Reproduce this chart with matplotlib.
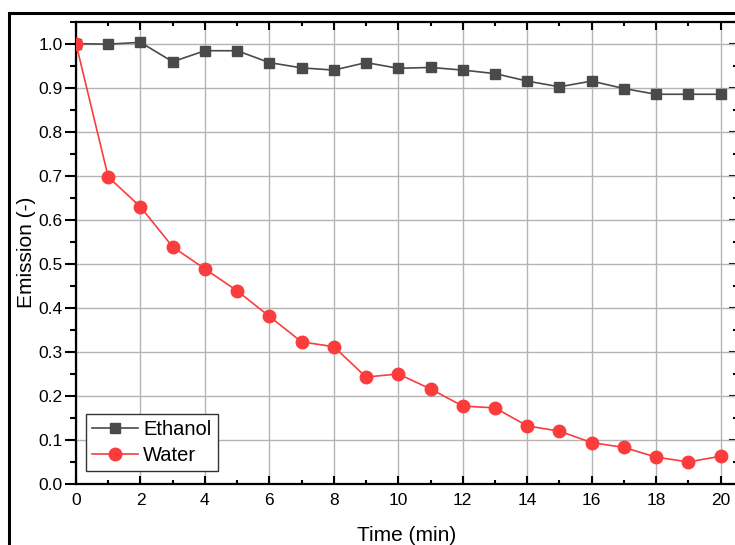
import matplotlib
matplotlib.use("Agg")
import matplotlib.pyplot as plt
from matplotlib.patches import Rectangle
from matplotlib.ticker import MultipleLocator

plt.rcParams['font.family'] = ['Liberation Sans', 'DejaVu Sans']

time_min = [0, 1, 2, 3, 4, 5, 6, 7, 8, 9, 10,
            11, 12, 13, 14, 15, 16, 17, 18, 19, 20]
ethanol = [1.000, 0.999, 1.003, 0.959, 0.984, 0.984, 0.957, 0.945, 0.940,
           0.957, 0.944, 0.946, 0.940, 0.932, 0.915, 0.902, 0.915, 0.898,
           0.885, 0.885, 0.885]
water = [1.000, 0.697, 0.629, 0.538, 0.488, 0.438, 0.380, 0.322, 0.311,
         0.242, 0.249, 0.215, 0.176, 0.172, 0.131, 0.119, 0.093, 0.082,
         0.060, 0.049, 0.062]

fig = plt.figure(figsize=(7.35, 5.45), dpi=100)
ax = fig.add_axes([76 / 735, 61.5 / 545, 660.7 / 735, 461.8 / 545])

# outer frame (Origin page border, partly cropped)
fig.patches.append(Rectangle((9 / 735, -0.2), 1.2, 1.2 - 13 / 545,
                             transform=fig.transFigure, fill=False,
                             edgecolor='black', linewidth=2.2,
                             clip_on=False))

ax.plot(time_min, ethanol, color='#4a4a4a', marker='s', markersize=7.8,
        linewidth=1.2, label='Ethanol', zorder=3)
ax.plot(time_min, water, color='#fb3c3c', marker='o', markersize=9,
        linewidth=1.2, label='Water', zorder=3)

ax.set_xlim(0, 20.5)
ax.set_ylim(0, 1.05)
ax.xaxis.set_major_locator(MultipleLocator(2))
ax.xaxis.set_minor_locator(MultipleLocator(1))
ax.yaxis.set_major_locator(MultipleLocator(0.1))
ax.yaxis.set_minor_locator(MultipleLocator(0.05))
ax.yaxis.set_major_formatter(plt.FormatStrFormatter('%.1f'))

ax.grid(True, which='major', color='#b4b4b4', linewidth=1.0)
ax.set_axisbelow(True)

for side in ['left', 'bottom', 'top', 'right']:
    ax.spines[side].set_linewidth(1.6)

ax.tick_params(axis='x', which='major', direction='in', length=6, width=1.5,
               top=True, labelsize=12.5, pad=7)
ax.tick_params(axis='x', which='minor', direction='in', length=3, width=1.5,
               top=True)
ax.tick_params(axis='y', which='major', direction='out', length=8, width=1.5,
               labelsize=12.5, pad=1.5)
ax.tick_params(axis='y', which='minor', direction='out', length=4, width=1.5)

sec = ax.secondary_yaxis('right')
sec.yaxis.set_major_locator(MultipleLocator(0.1))
sec.yaxis.set_minor_locator(MultipleLocator(0.05))
sec.tick_params(which='major', direction='in', length=6, width=1.5,
                labelright=False)
sec.tick_params(which='minor', direction='in', length=3, width=1.5)
sec.spines['right'].set_linewidth(1.6)

ax.set_xlabel('Time (min)', fontsize=15)
ax.set_ylabel('Emission (-)', fontsize=15)
ax.xaxis.set_label_coords(0.5, -0.092)
ax.yaxis.set_label_coords(-0.06, 0.5)

leg = ax.legend(loc='lower left', bbox_to_anchor=(0.015, 0.027),
                borderaxespad=0, fontsize=14.5, fancybox=False,
                framealpha=1, edgecolor='#333333', handlelength=2.3,
                handletextpad=0.25, borderpad=0.3, labelspacing=0.35)
leg.get_frame().set_linewidth(1.0)

fig.savefig('out.png', dpi=100)
